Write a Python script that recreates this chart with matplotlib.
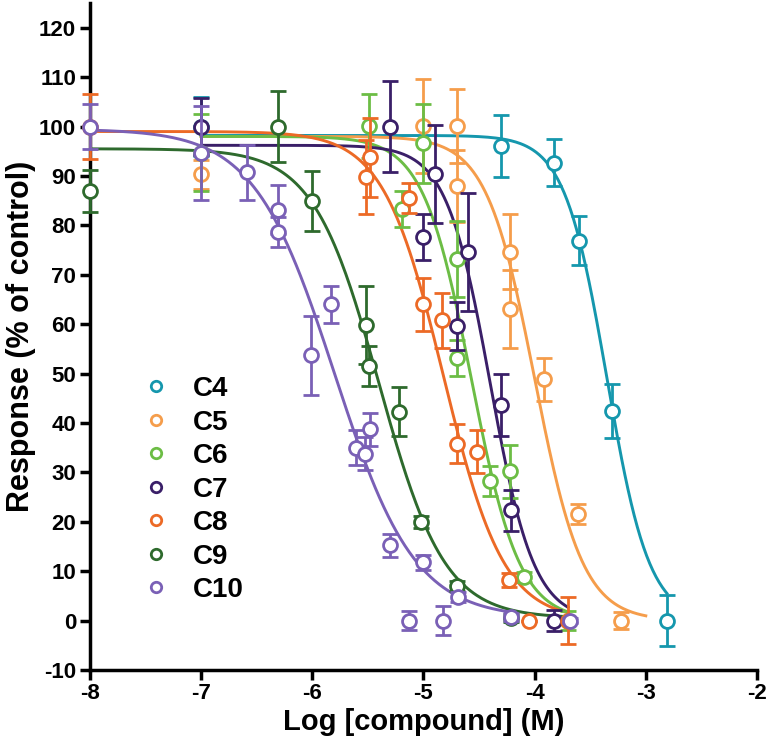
import numpy as np
import matplotlib
matplotlib.use("Agg")
import matplotlib.pyplot as plt

plt.rcParams['font.family'] = ['Liberation Sans', 'DejaVu Sans']
plt.rcParams['font.weight'] = 'bold'
plt.rcParams['axes.unicode_minus'] = False

# series names and colours
names = ["C4", "C5", "C6", "C7", "C8", "C9", "C10"]
colors = ["#1597ad", "#f59d4b", "#6cbd45", "#3a1f68", "#ec6a26", "#2e6a2d", "#7a60b6"]

# measured points: log[compound], response (%), error (sd)
c4_x = [-7.0, -4.30, -3.83, -3.60, -3.30, -2.81]
c4_y = [100.0, 96.1, 92.7, 76.9, 42.4, 0.0]
c4_e = [6.0, 6.3, 4.8, 4.9, 5.4, 5.2]

c5_x = [-7.0, -5.0, -4.70, -4.70, -4.22, -4.22, -3.92, -3.61, -3.22]
c5_y = [90.3, 100.1, 100.1, 87.9, 74.7, 63.0, 48.8, 21.6, 0.0]
c5_e = [3.0, 9.5, 7.5, 7.3, 7.5, 7.9, 4.4, 2.1, 1.8]

c6_x = [-7.0, -5.49, -5.19, -5.0, -4.70, -4.70, -4.40, -4.22, -4.10, -3.70]
c6_y = [94.7, 100.1, 83.3, 96.6, 73.2, 53.2, 28.2, 30.2, 8.9, 0.0]
c6_e = [7.8, 6.4, 3.7, 8.0, 7.7, 3.6, 3.0, 5.4, 1.0, 2.0]

c7_x = [-7.0, -5.30, -5.0, -4.90, -4.70, -4.60, -4.30, -4.21, -3.83]
c7_y = [100.0, 100.0, 77.6, 90.4, 59.6, 74.6, 43.6, 22.3, 0.0]
c7_e = [5.7, 9.2, 4.6, 10.0, 4.8, 12.0, 6.3, 4.2, 2.2]

c8_x = [-8.0, -5.48, -5.52, -5.13, -5.0, -4.83, -4.70, -4.52, -4.23, -4.05, -3.70]
c8_y = [100.0, 93.8, 89.7, 85.5, 64.0, 60.8, 35.8, 34.2, 8.2, 0.0, 0.0]
c8_e = [6.6, 8.0, 7.5, 3.0, 5.3, 5.6, 3.9, 4.3, 1.5, 0.0, 4.7]

c9_x = [-8.0, -6.31, -6.0, -5.52, -5.49, -5.22, -5.02, -4.70, -4.21]
c9_y = [87.0, 100.0, 84.9, 59.8, 51.5, 42.3, 20.0, 7.0, 0.5]
c9_e = [4.3, 7.2, 6.1, 7.9, 4.0, 4.9, 1.2, 1.0, 0.8]

c10_x = [-8.0, -7.0, -6.59, -6.31, -6.31, -6.01, -5.83, -5.61, -5.53, -5.48,
         -5.30, -5.0, -4.69, -5.13, -4.82, -4.21, -3.68]
c10_y = [100.0, 94.7, 90.7, 83.2, 78.6, 53.7, 64.0, 35.0, 33.8, 38.7,
         15.2, 11.8, 4.7, 0.0, 0.0, 0.7, 0.0]
c10_e = [4.5, 9.5, 5.5, 5.0, 3.0, 8.0, 3.8, 3.5, 3.4, 3.4,
         2.3, 1.5, 1.0, 2.0, 3.0, 0.8, 0.5]

# four-parameter logistic fit parameters
fit_top = [98.2, 98.0, 98.0, 96.2, 99.0, 95.5, 99.5]
fit_bottom = [0.0, 0.0, 0.0, 0.0, 0.0, 0.5, 0.5]
fit_logic50 = [-3.35, -4.00, -4.57, -4.40, -4.82, -5.40, -5.80]
fit_hill = [2.27, 2.0, 2.0, 2.2, 1.6, 1.47, 1.2]
fit_start = [-7.0, -7.0, -7.0, -7.0, -8.0, -8.0, -8.0]
fit_end = [-2.81, -3.0, -3.7, -3.7, -3.7, -3.7, -4.2]

xs = [c4_x, c5_x, c6_x, c7_x, c8_x, c9_x, c10_x]
ys = [c4_y, c5_y, c6_y, c7_y, c8_y, c9_y, c10_y]
es = [c4_e, c5_e, c6_e, c7_e, c8_e, c9_e, c10_e]


def logistic(x, top, bottom, logic50, hill):
    return bottom + (top - bottom) / (1 + 10 ** ((x - logic50) * hill))


fig = plt.figure(figsize=(7.71, 7.54), dpi=100)
ax = fig.add_axes([0.1167, 0.1114, 0.8651, 0.8846])

for i, name in enumerate(names):
    col = colors[i]
    xx = np.linspace(fit_start[i], fit_end[i], 300)
    ax.plot(xx, logistic(xx, fit_top[i], fit_bottom[i], fit_logic50[i], fit_hill[i]),
            color=col, lw=2.1, zorder=2 + i)
    ax.errorbar(xs[i], ys[i], yerr=es[i], fmt='o', color=col, ecolor=col,
                elinewidth=2.0, capsize=5.5, capthick=2.0, ms=10,
                mfc='white', mec=col, mew=2.0, label=name, zorder=10 + i,
                clip_on=False)

ax.set_xlim(-8, -2)
ax.set_ylim(-10, 125)
ax.set_xticks(range(-8, -1))
ax.set_yticks(range(-10, 121, 10))
ax.spines['top'].set_visible(False)
ax.spines['right'].set_visible(False)
ax.spines['left'].set_linewidth(2.5)
ax.spines['bottom'].set_linewidth(2.5)
ax.tick_params(width=2.5, length=7, labelsize=16, pad=3)
ax.tick_params(axis='x', pad=2)
for lab in ax.get_xticklabels() + ax.get_yticklabels():
    lab.set_fontweight('bold')

ax.set_xlabel("Log [compound] (M)", fontsize=21, fontweight='bold', labelpad=3)
ax.set_ylabel("Response (% of control)", fontsize=22, fontweight='bold', labelpad=2)

handles, labels = ax.get_legend_handles_labels()
handles = [h[0] for h in handles]
leg = ax.legend(handles, labels, loc='upper left', bbox_to_anchor=(0.04, 0.478),
                frameon=False, fontsize=20, markerscale=0.75, handlelength=1.0,
                handletextpad=0.85, labelspacing=0.27)
for t in leg.get_texts():
    t.set_fontweight('bold')

fig.savefig("out.png", dpi=100)
